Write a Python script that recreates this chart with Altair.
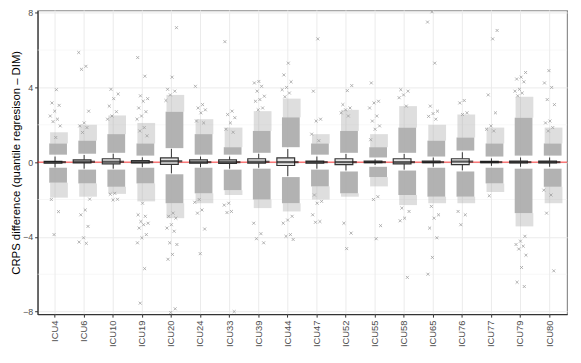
import altair as alt
import pandas as pd

cats = ["ICU4", "ICU6", "ICU10", "ICU19", "ICU20", "ICU24", "ICU33", "ICU39", "ICU44",
        "ICU47", "ICU52", "ICU55", "ICU58", "ICU65", "ICU76", "ICU77", "ICU79", "ICU80"]

# box statistics
q1 =  [-0.05, -0.04, -0.09, -0.04, -0.12, -0.05, -0.07, -0.05, -0.18, -0.05, -0.13, -0.03, -0.09, -0.03, -0.13, -0.03, -0.04, -0.04]
med = [0.0, 0.02, 0.02, 0.0, 0.05, 0.0, 0.0, 0.02, 0.0, 0.0, 0.0, 0.0, 0.0, 0.0, 0.03, 0.0, 0.0, 0.0]
q3 =  [0.04, 0.12, 0.18, 0.08, 0.23, 0.12, 0.12, 0.18, 0.23, 0.05, 0.18, 0.05, 0.18, 0.05, 0.18, 0.04, 0.05, 0.05]
wlo = [-0.28, -0.35, -0.35, -0.27, -0.6, -0.27, -0.35, -0.3, -0.75, -0.35, -0.45, -0.15, -0.4, -0.25, -0.44, -0.2, -0.25, -0.25]
whi = [0.3, 0.38, 0.45, 0.26, 0.71, 0.3, 0.3, 0.45, 0.7, 0.3, 0.44, 0.15, 0.44, 0.25, 0.53, 0.2, 0.25, 0.25]

# extents of the dense clouds of outlying points (upper and lower)
up_start = [0.4, 0.45, 0.5, 0.35, 0.75, 0.4, 0.4, 0.5, 0.8, 0.4, 0.5, 0.25, 0.5, 0.3, 0.62, 0.3, 0.35, 0.35]
up_core =  [1.0, 1.15, 1.5, 1.0, 2.7, 1.5, 0.8, 1.67, 2.4, 1.0, 1.67, 0.8, 1.85, 1.15, 1.32, 1.0, 2.38, 1.0]
up_fade =  [1.6, 2.0, 2.5, 2.1, 3.6, 2.3, 1.85, 2.73, 3.4, 1.5, 2.8, 1.5, 3.0, 2.0, 2.55, 1.85, 3.5, 1.85]
lo_start = [-0.3, -0.4, -0.4, -0.3, -0.65, -0.3, -0.4, -0.35, -0.8, -0.4, -0.5, -0.25, -0.45, -0.3, -0.5, -0.3, -0.35, -0.35]
lo_core =  [-1.1, -1.14, -1.32, -1.14, -2.2, -1.67, -1.5, -2.0, -2.2, -1.3, -1.67, -0.8, -1.76, -1.85, -1.85, -1.14, -2.73, -1.32]
lo_fade =  [-1.9, -1.85, -1.7, -2.1, -3.0, -2.2, -1.76, -2.46, -2.64, -2.0, -1.85, -1.3, -2.3, -2.2, -2.2, -1.6, -3.44, -2.2]

# sparse individual outliers
up_out = [
    [3.88, 3.17, 3.04, 2.73, 2.47, 2.3, 2.17, 1.94, 1.32],
    [5.87, 5.13, 4.97, 2.73, 2.1, 1.94, 1.85, 1.59],
    [3.9, 3.65, 3.4, 3.0, 2.7, 2.47, 2.3],
    [5.6, 4.6, 3.55, 3.4, 3.26, 2.9, 2.7, 2.47, 2.3, 1.85, 1.67, 1.41],
    [7.2, 4.55, 3.9, 3.8, 3.6, 3.3],
    [4.06, 3.08, 2.9, 2.8, 2.64, 2.2, 2.1],
    [6.45, 2.73, 2.55, 2.38, 2.1, 1.76, 1.6],
    [4.32, 4.24, 4.06, 3.8, 3.53, 3.35, 3.26, 2.9, 2.8],
    [5.3, 4.67, 4.3, 4.0, 3.88, 3.7, 3.5],
    [6.6, 3.8, 2.3, 2.2, 1.5, 1.15],
    [4.1, 3.83, 3.08, 2.9, 2.8, 2.64, 2.47],
    [4.24, 3.26, 3.17, 2.9, 2.47, 2.2, 1.94, 1.76, 1.2],
    [3.88, 3.8, 3.6, 3.45, 3.0],
    [8.05, 7.5, 5.3, 3.0, 2.73, 2.6, 2.45, 2.3],
    [3.3, 3.17, 2.64, 2.55],
    [7.05, 6.6, 3.6, 2.64, 1.94, 1.76, 1.67],
    [4.8, 4.55, 4.45, 4.3, 3.9, 3.8, 3.7, 3.55],
    [4.9, 4.24, 4.0, 3.35, 3.08, 2.2, 2.1, 1.85, 1.67],
]
lo_out = [
    [-2.0, -2.65, -3.88],
    [-1.98, -2.56, -2.82, -3.44, -4.05, -4.28, -4.35],
    [-1.67, -1.72, -1.99, -2.02],
    [-2.2, -2.82, -2.9, -3.18, -3.27, -3.35, -3.53, -3.88, -4.05, -4.32, -5.7, -7.55],
    [-2.73, -2.9, -3.0, -3.35, -3.53, -3.7, -4.32, -4.41, -4.94, -5.2, -7.85, -8.05],
    [-2.0, -2.15, -2.56, -2.73, -3.58, -4.9],
    [-2.2, -2.3, -2.64, -2.7, -8.0],
    [-3.27, -3.83, -4.1, -4.32],
    [-2.9, -3.1, -3.27, -3.88, -3.97, -4.14],
    [-1.76, -2.1, -2.2, -2.82, -3.18, -3.22],
    [-3.27, -3.8, -4.63],
    [-1.85, -2.0, -3.4, -4.1],
    [-2.46, -2.64, -3.0, -3.14, -6.17],
    [-2.37, -2.82, -3.0, -3.53, -4.05, -5.1, -6.0],
    [-2.64, -2.82, -3.35],
    [-1.8],
    [-3.97, -4.23, -4.41, -4.5, -4.65, -4.98, -5.64, -6.43, -6.66],
    [-1.5, -1.76, -2.73, -5.82],
]

y_major = [-8, -4, 0, 4, 8]
y_minor = [-6, -2, 2, 6]
y_title = "CRPS difference (quantile regresison \u2013 DIM)"

box_df = pd.DataFrame(dict(cat=cats, q1=q1, med=med, q3=q3, wlo=wlo, whi=whi))
cloud_df = pd.DataFrame(dict(cat=cats + cats, start=up_start + lo_start,
                             core=up_core + lo_core, fade=up_fade + lo_fade))
pts = []
for c, u, l in zip(cats, up_out, lo_out):
    for v in u + l:
        pts.append(dict(cat=c, v=v))
pts_df = pd.DataFrame(pts)

FONT = "Liberation Sans"
ydom = [-8.14, 8.12]
xscale = alt.Scale(domain=cats, paddingInner=0, paddingOuter=0.1)
yscale = alt.Scale(domain=ydom, nice=False, zero=False)
X = alt.X("cat:N", scale=xscale, sort=cats, title=None,
          axis=alt.Axis(labelAngle=270, labelAlign="right", labelBaseline="middle",
                        labelFontSize=9.5, labelColor="#4d4d4d", labelFont=FONT,
                        tickColor="#333333", tickSize=3, labelPadding=3,
                        domainColor="#333333", domainWidth=1.2, grid=False))

grid_v = alt.Chart(box_df).mark_rule(color="#ebebeb", strokeWidth=1).encode(
    x=alt.X("cat:N", scale=xscale, sort=cats))
grid_minor = alt.Chart(pd.DataFrame(dict(y=y_minor))).mark_rule(
    color="#f2f2f2", strokeWidth=0.6).encode(y=alt.Y("y:Q", scale=yscale))

fade = alt.Chart(cloud_df).mark_bar(width=alt.RelativeBandSize(0.34), color="#a9a9a9",
                                    opacity=0.38).encode(
    x=X,
    y=alt.Y("core:Q", scale=yscale, title=y_title,
            axis=alt.Axis(values=y_major, labelFontSize=9, labelColor="#4d4d4d", labelFont=FONT,
                          tickColor="#333333", tickSize=3, labelPadding=2,
                          domainColor="#333333", domainWidth=1.2,
                          gridColor="#ebebeb", gridWidth=1,
                          titleFont=FONT, titleFontSize=11.5, titleFontWeight="normal",
                          titleColor="#000000", titlePadding=1, titleLimit=1000)),
    y2="fade:Q")
core = alt.Chart(cloud_df).mark_bar(width=alt.RelativeBandSize(0.4), color="#aaaaaa",
                                    opacity=0.9).encode(
    x=X, y=alt.Y("start:Q", scale=yscale), y2="core:Q")

pts_layer = alt.Chart(pts_df).transform_window(
    idx="row_number()"
).transform_calculate(
    off="((datum.idx * 0.6180339) % 1 - 0.5) * 0.4"
).mark_point(shape="M-1,-1L1,1M-1,1L1,-1", filled=False, stroke="#a0a0a0",
             strokeWidth=0.8, size=9, opacity=1).encode(
    x=X,
    xOffset=alt.XOffset("off:Q", scale=alt.Scale(domain=[-0.5, 0.5])),
    y=alt.Y("v:Q", scale=yscale))

zero = alt.Chart(pd.DataFrame(dict(y=[0]))).mark_rule(color="#ff0000", strokeWidth=0.8).encode(
    y=alt.Y("y:Q", scale=yscale))

whisk_lo = alt.Chart(box_df).mark_rule(color="#333333", strokeWidth=1).encode(
    x=X, y=alt.Y("wlo:Q", scale=yscale), y2="q1:Q")
whisk_hi = alt.Chart(box_df).mark_rule(color="#333333", strokeWidth=1).encode(
    x=X, y=alt.Y("q3:Q", scale=yscale), y2="whi:Q")
boxes = alt.Chart(box_df).mark_bar(width=alt.RelativeBandSize(0.75), fill="#e6e6e6",
                                   stroke="#333333", strokeWidth=1.2).encode(
    x=X, y=alt.Y("q1:Q", scale=yscale), y2="q3:Q")
medians = alt.Chart(box_df).mark_tick(color="#1a1a1a", thickness=2.2, size=22).encode(
    x=X, y=alt.Y("med:Q", scale=yscale))

chart = alt.layer(
    grid_minor, grid_v, fade, core, pts_layer, zero, whisk_lo, whisk_hi, boxes, medians
).properties(
    width=537, height=308,
    autosize=alt.AutoSizeParams(type="none"),
    padding={"left": 30, "top": 0, "right": 6, "bottom": 47},
    background="white",
).configure_view(
    stroke="#8c8c8c", strokeWidth=1.2
)

chart.save("out.html", embed_options={"renderer": "svg", "actions": False})
